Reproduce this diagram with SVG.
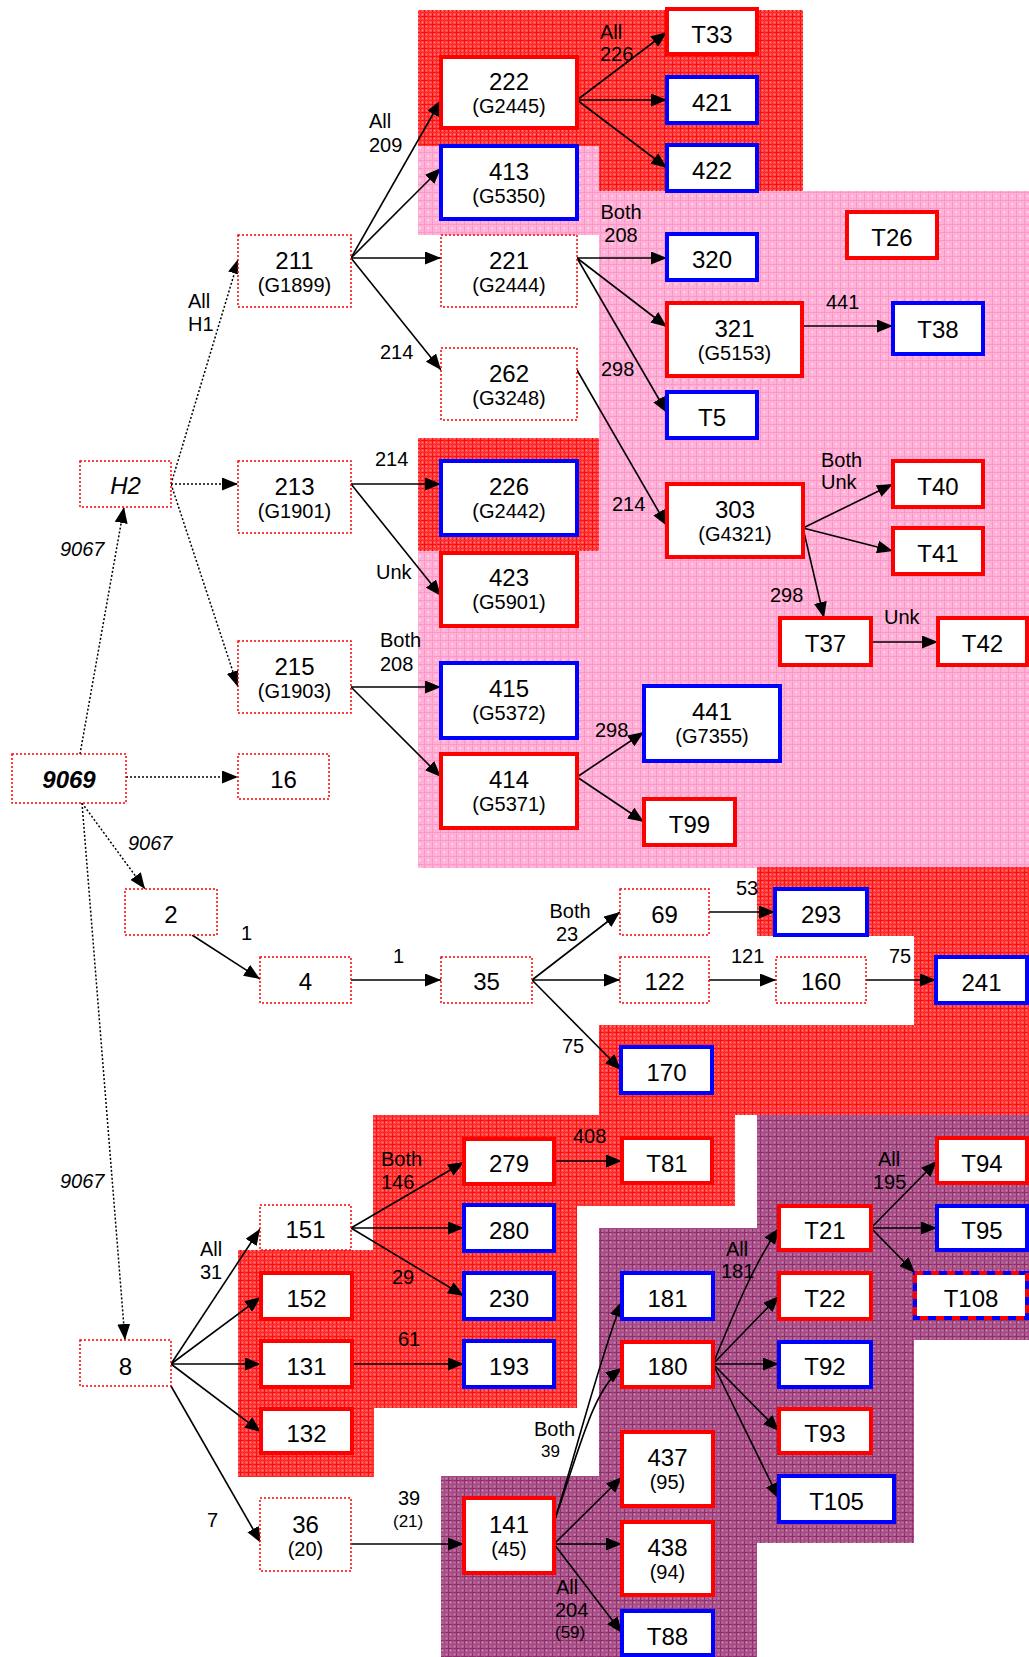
<svg xmlns="http://www.w3.org/2000/svg" width="1029" height="1657" viewBox="0 0 1029 1657">
  <style>
    .dot { fill: #fff; stroke: #f00; stroke-width: 1.5; stroke-dasharray: 2 2; }
    .red { fill: #fff; stroke: #f00; stroke-width: 4; }
    .blue { fill: #fff; stroke: #00f; stroke-width: 4; }
    text { font-family: "Liberation Sans", Arial, sans-serif; fill: #000; }
    .n { font-size: 24px; text-anchor: middle; }
    .g { font-size: 20px; text-anchor: middle; }
    .e { font-size: 20px; }
    .em { font-size: 20px; text-anchor: middle; }
    .s { font-size: 17px; }
    .it { font-style: italic; }
    .c { stroke: #000; stroke-width: 1.6; fill: none; marker-end: url(#ah); }
    .d { stroke-dasharray: 2 2; stroke-width: 1.5; }
  </style>
  <defs>
    <marker id="ah" markerUnits="userSpaceOnUse" markerWidth="17" markerHeight="13" refX="16" refY="6.5" orient="auto">
      <path d="M0,0 L16,6.5 L0,13 z" fill="#000"/>
    </marker>
    <pattern id="texRed" width="8" height="8" patternUnits="userSpaceOnUse">
      <rect width="8" height="8" fill="#ff4545"/>
      <path d="M0,0.5H8M0.5,0V8" stroke="#ff0d0d" stroke-width="1"/>
      <path d="M0,4.5H8M4.5,0V8" stroke="#ff2a2a" stroke-width="1"/>
      <rect x="2" y="2" width="1" height="1" fill="#ff9c9c"/>
      <rect x="6" y="6" width="1" height="1" fill="#ff9c9c"/>
      <rect x="2" y="6" width="1" height="1" fill="#ff7a7a"/>
      <rect x="6" y="2" width="1" height="1" fill="#ff7a7a"/>
    </pattern>
    <pattern id="texPink" width="8" height="8" patternUnits="userSpaceOnUse">
      <rect width="8" height="8" fill="#ffb2d7"/>
      <path d="M0,0.5H8M0.5,0V8" stroke="#ff96c8" stroke-width="1"/>
      <rect x="3" y="3" width="2" height="2" fill="#ffd0e6"/>
    </pattern>
    <pattern id="texPurple" width="8" height="8" patternUnits="userSpaceOnUse">
      <rect width="8" height="8" fill="#b25e92"/>
      <path d="M0,0.5H8M0.5,0V8" stroke="#8e2f6c" stroke-width="1"/>
      <path d="M0,4.5H8M4.5,0V8" stroke="#a24a82" stroke-width="1"/>
      <rect x="2" y="2" width="1" height="1" fill="#d59cbd"/>
      <rect x="6" y="6" width="1" height="1" fill="#d59cbd"/>
    </pattern>
  </defs>

  <rect width="1029" height="1657" fill="#fff"/>

  <!-- shaded background zones -->
  <g id="zones">
    <polygon fill="url(#texRed)" points="418,10 803,10 803,191 599,191 599,146 418,146"/>
    <polygon fill="url(#texPink)" points="418,146 599,146 599,191 1029,191 1029,868 418,868 418,551 599,551 599,438 599,235 418,235"/>
    <rect fill="url(#texRed)" x="418" y="438" width="181" height="113"/>
    <polygon fill="url(#texRed)" points="757,867 1029,867 1029,1115 599,1115 599,1025 914,1025 914,936 757,936"/>
    <polygon fill="url(#texRed)" points="373,1115 735,1115 735,1206 577,1206 577,1408 374,1408 374,1477 238,1477 238,1250 373,1250"/>
    <polygon fill="url(#texPurple)" points="757,1115 1029,1115 1029,1340 914,1340 914,1543 757,1543 757,1657 441,1657 441,1476 599,1476 599,1228 757,1228"/>
  </g>

  <!-- connectors -->
  <g id="connectors">
    <path class="c d" d="M80,754 L124,507"/>
    <path class="c d" d="M171,484 L239,258"/>
    <path class="c d" d="M171,484 L238,484"/>
    <path class="c d" d="M171,484 L238,687"/>
    <path class="c d" d="M126,777 L238,777"/>
    <path class="c d" d="M82,803 L145,889"/>
    <path class="c d" d="M82,803 L125,1340"/>

    <path class="c" d="M351,258 L441,100"/>
    <path class="c" d="M351,258 L441,168"/>
    <path class="c" d="M351,258 L441,258"/>
    <path class="c" d="M351,258 L441,370"/>
    <path class="c" d="M577,100 L667,32"/>
    <path class="c" d="M577,100 L667,100"/>
    <path class="c" d="M577,100 L667,168"/>
    <path class="c" d="M577,258 L667,258"/>
    <path class="c" d="M577,258 L667,327"/>
    <path class="c" d="M577,258 L667,413"/>
    <path class="c" d="M577,370 L667,526"/>
    <path class="c" d="M802,326 L893,326"/>
    <path class="c" d="M803,528 L893,484"/>
    <path class="c" d="M803,528 L893,551"/>
    <path class="c" d="M803,528 L824,618"/>
    <path class="c" d="M871,642 L938,642"/>
    <path class="c" d="M351,484 L441,484"/>
    <path class="c" d="M351,484 L441,596"/>
    <path class="c" d="M351,687 L441,687"/>
    <path class="c" d="M351,687 L441,777"/>
    <path class="c" d="M577,777 L644,732"/>
    <path class="c" d="M577,777 L644,822"/>

    <path class="c" d="M192,935 L260,979"/>
    <path class="c" d="M351,980 L441,980"/>
    <path class="c" d="M532,980 L620,912"/>
    <path class="c" d="M532,980 L620,980"/>
    <path class="c" d="M532,980 L621,1070"/>
    <path class="c" d="M709,912 L775,912"/>
    <path class="c" d="M709,980 L776,980"/>
    <path class="c" d="M866,980 L936,980"/>

    <path class="c" d="M171,1364 L260,1229"/>
    <path class="c" d="M171,1364 L261,1297"/>
    <path class="c" d="M171,1364 L261,1364"/>
    <path class="c" d="M171,1364 L261,1432"/>
    <path class="c" d="M171,1386 L261,1543"/>
    <path class="c" d="M351,1228 L464,1162"/>
    <path class="c" d="M351,1228 L464,1228"/>
    <path class="c" d="M351,1228 L464,1296"/>
    <path class="c" d="M352,1364 L464,1364"/>
    <path class="c" d="M351,1544 L464,1544"/>
    <path class="c" d="M554,1161 L622,1161"/>
    <path class="c" d="M554,1522 C574,1460 596,1370 622,1301"/>
    <path class="c" d="M554,1522 C578,1455 592,1390 622,1368"/>
    <path class="c" d="M554,1544 L622,1477"/>
    <path class="c" d="M554,1544 L622,1544"/>
    <path class="c" d="M554,1544 L622,1633"/>
    <path class="c" d="M713,1364 C735,1310 755,1262 779,1228"/>
    <path class="c" d="M713,1364 L779,1296"/>
    <path class="c" d="M713,1364 L779,1364"/>
    <path class="c" d="M713,1364 L779,1431"/>
    <path class="c" d="M713,1364 L779,1499"/>
    <path class="c" d="M871,1228 L937,1161"/>
    <path class="c" d="M871,1228 L937,1228"/>
    <path class="c" d="M871,1228 L915,1273"/>
  </g>

  <!-- connector labels -->
  <g id="edge-labels">
    <text class="e" x="600" y="39">All</text>
    <text class="e" x="600" y="61">226</text>
    <text class="e" x="369" y="128">All</text>
    <text class="e" x="369" y="152">209</text>
    <text class="e" x="188" y="308">All</text>
    <text class="e" x="188" y="331">H1</text>
    <text class="e" x="380" y="359">214</text>
    <text class="em" x="621" y="219">Both</text>
    <text class="em" x="621" y="242">208</text>
    <text class="e" x="601" y="376">298</text>
    <text class="e" x="826" y="309">441</text>
    <text class="e" x="375" y="466">214</text>
    <text class="e" x="376" y="579">Unk</text>
    <text class="e" x="612" y="511">214</text>
    <text class="e" x="821" y="467">Both</text>
    <text class="e" x="821" y="489">Unk</text>
    <text class="e" x="770" y="602">298</text>
    <text class="e" x="884" y="624">Unk</text>
    <text class="e" x="380" y="647">Both</text>
    <text class="e" x="380" y="671">208</text>
    <text class="e" x="595" y="737">298</text>
    <text class="e it" x="60" y="556">9067</text>
    <text class="e it" x="128" y="850">9067</text>
    <text class="e it" x="60" y="1188">9067</text>
    <text class="e" x="241" y="940">1</text>
    <text class="e" x="393" y="963">1</text>
    <text class="em" x="570" y="918">Both</text>
    <text class="em" x="567" y="941">23</text>
    <text class="e" x="736" y="895">53</text>
    <text class="e" x="731" y="963">121</text>
    <text class="e" x="889" y="963">75</text>
    <text class="e" x="562" y="1053">75</text>
    <text class="e" x="573" y="1143">408</text>
    <text class="e" x="381" y="1166">Both</text>
    <text class="e" x="381" y="1189">146</text>
    <text class="e" x="878" y="1166">All</text>
    <text class="e" x="873" y="1189">195</text>
    <text class="e" x="200" y="1256">All</text>
    <text class="e" x="200" y="1279">31</text>
    <text class="e" x="726" y="1256">All</text>
    <text class="e" x="721" y="1278">181</text>
    <text class="e" x="392" y="1284">29</text>
    <text class="e" x="398" y="1346">61</text>
    <text class="e" x="534" y="1436">Both</text>
    <text class="s" x="541" y="1457">39</text>
    <text class="e" x="398" y="1505">39</text>
    <text class="s" x="393" y="1527">(21)</text>
    <text class="e" x="207" y="1527">7</text>
    <text class="e" x="556" y="1594">All</text>
    <text class="e" x="555" y="1617">204</text>
    <text class="s" x="555" y="1638">(59)</text>
  </g>

  <!-- nodes -->
  <g id="n-H2"><rect class="dot" x="80" y="461" width="91" height="46"/><text class="n it" x="125.5" y="494">H2</text></g>
  <g id="n-9069"><rect class="dot" x="12" y="754" width="114" height="49"/><text class="n it" x="69" y="788" font-weight="bold">9069</text></g>
  <g id="n-211"><rect class="dot" x="238" y="235" width="113" height="72"/><text class="n" x="294.5" y="269">211</text><text class="g" x="294.5" y="292">(G1899)</text></g>
  <g id="n-213"><rect class="dot" x="238" y="461" width="113" height="72"/><text class="n" x="294.5" y="495">213</text><text class="g" x="294.5" y="518">(G1901)</text></g>
  <g id="n-215"><rect class="dot" x="238" y="641" width="113" height="72"/><text class="n" x="294.5" y="675">215</text><text class="g" x="294.5" y="698">(G1903)</text></g>
  <g id="n-16"><rect class="dot" x="238" y="754" width="91" height="45"/><text class="n" x="283.5" y="788">16</text></g>
  <g id="n-221"><rect class="dot" x="441" y="235" width="136" height="72"/><text class="n" x="509" y="269">221</text><text class="g" x="509" y="292">(G2444)</text></g>
  <g id="n-262"><rect class="dot" x="441" y="348" width="136" height="72"/><text class="n" x="509" y="382">262</text><text class="g" x="509" y="405">(G3248)</text></g>
  <g id="n-2"><rect class="dot" x="125" y="889" width="92" height="46"/><text class="n" x="171" y="923">2</text></g>
  <g id="n-4"><rect class="dot" x="260" y="957" width="91" height="46"/><text class="n" x="305.5" y="990">4</text></g>
  <g id="n-35"><rect class="dot" x="441" y="957" width="91" height="46"/><text class="n" x="486.5" y="990">35</text></g>
  <g id="n-69"><rect class="dot" x="620" y="889" width="89" height="46"/><text class="n" x="664.5" y="923">69</text></g>
  <g id="n-122"><rect class="dot" x="620" y="957" width="89" height="46"/><text class="n" x="664.5" y="990">122</text></g>
  <g id="n-160"><rect class="dot" x="776" y="957" width="90" height="46"/><text class="n" x="821" y="990">160</text></g>
  <g id="n-8"><rect class="dot" x="80" y="1340" width="91" height="46"/><text class="n" x="125.5" y="1375">8</text></g>
  <g id="n-151"><rect class="dot" x="260" y="1205" width="91" height="45"/><text class="n" x="305.5" y="1238">151</text></g>
  <g id="n-36"><rect class="dot" x="260" y="1498" width="91" height="73"/><text class="n" x="305.5" y="1533">36</text><text class="g" x="305.5" y="1556">(20)</text></g>

  <g id="n-222"><rect class="red" x="441" y="57" width="136" height="71"/><text class="n" x="509" y="90">222</text><text class="g" x="509" y="113">(G2445)</text></g>
  <g id="n-T33"><rect class="red" x="667" y="9" width="90" height="45"/><text class="n" x="712" y="43">T33</text></g>
  <g id="n-423"><rect class="red" x="441" y="553" width="136" height="73"/><text class="n" x="509" y="586">423</text><text class="g" x="509" y="609">(G5901)</text></g>
  <g id="n-414"><rect class="red" x="441" y="754" width="136" height="74"/><text class="n" x="509" y="788">414</text><text class="g" x="509" y="811">(G5371)</text></g>
  <g id="n-T26"><rect class="red" x="847" y="212" width="90" height="46"/><text class="n" x="892" y="246">T26</text></g>
  <g id="n-321"><rect class="red" x="667" y="303" width="135" height="73"/><text class="n" x="734.5" y="337">321</text><text class="g" x="734.5" y="360">(G5153)</text></g>
  <g id="n-303"><rect class="red" x="667" y="484" width="136" height="73"/><text class="n" x="735" y="518">303</text><text class="g" x="735" y="541">(G4321)</text></g>
  <g id="n-T40"><rect class="red" x="893" y="461" width="90" height="46"/><text class="n" x="938" y="495">T40</text></g>
  <g id="n-T41"><rect class="red" x="893" y="528" width="90" height="46"/><text class="n" x="938" y="562">T41</text></g>
  <g id="n-T37"><rect class="red" x="780" y="618" width="91" height="47"/><text class="n" x="825.5" y="652">T37</text></g>
  <g id="n-T42"><rect class="red" x="938" y="618" width="89" height="47"/><text class="n" x="982.5" y="652">T42</text></g>
  <g id="n-T99"><rect class="red" x="644" y="799" width="91" height="46"/><text class="n" x="689.5" y="833">T99</text></g>
  <g id="n-279"><rect class="red" x="464" y="1139" width="90" height="45"/><text class="n" x="509" y="1172">279</text></g>
  <g id="n-T81"><rect class="red" x="622" y="1138" width="90" height="45"/><text class="n" x="667" y="1172">T81</text></g>
  <g id="n-152"><rect class="red" x="261" y="1273" width="91" height="46"/><text class="n" x="306.5" y="1307">152</text></g>
  <g id="n-131"><rect class="red" x="261" y="1341" width="91" height="46"/><text class="n" x="306.5" y="1375">131</text></g>
  <g id="n-132"><rect class="red" x="261" y="1409" width="91" height="44"/><text class="n" x="306.5" y="1442">132</text></g>
  <g id="n-141"><rect class="red" x="464" y="1498" width="90" height="75"/><text class="n" x="509" y="1533">141</text><text class="g" x="509" y="1556">(45)</text></g>
  <g id="n-180"><rect class="red" x="622" y="1342" width="91" height="45"/><text class="n" x="667.5" y="1375">180</text></g>
  <g id="n-437"><rect class="red" x="622" y="1432" width="91" height="74"/><text class="n" x="667.5" y="1466">437</text><text class="g" x="667.5" y="1489">(95)</text></g>
  <g id="n-438"><rect class="red" x="622" y="1522" width="91" height="73"/><text class="n" x="667.5" y="1556">438</text><text class="g" x="667.5" y="1579">(94)</text></g>
  <g id="n-T21"><rect class="red" x="779" y="1206" width="92" height="44"/><text class="n" x="825" y="1239">T21</text></g>
  <g id="n-T22"><rect class="red" x="779" y="1273" width="92" height="46"/><text class="n" x="825" y="1307">T22</text></g>
  <g id="n-T93"><rect class="red" x="779" y="1409" width="92" height="44"/><text class="n" x="825" y="1442">T93</text></g>
  <g id="n-T94"><rect class="red" x="937" y="1138" width="90" height="45"/><text class="n" x="982" y="1172">T94</text></g>

  <g id="n-413"><rect class="blue" x="441" y="146" width="136" height="73"/><text class="n" x="509" y="180">413</text><text class="g" x="509" y="203">(G5350)</text></g>
  <g id="n-421"><rect class="blue" x="667" y="77" width="90" height="46"/><text class="n" x="712" y="111">421</text></g>
  <g id="n-422"><rect class="blue" x="667" y="145" width="90" height="46"/><text class="n" x="712" y="179">422</text></g>
  <g id="n-320"><rect class="blue" x="667" y="234" width="90" height="46"/><text class="n" x="712" y="268">320</text></g>
  <g id="n-T38"><rect class="blue" x="893" y="303" width="90" height="51"/><text class="n" x="938" y="338">T38</text></g>
  <g id="n-T5"><rect class="blue" x="667" y="392" width="90" height="46"/><text class="n" x="712" y="426">T5</text></g>
  <g id="n-226"><rect class="blue" x="441" y="461" width="136" height="74"/><text class="n" x="509" y="495">226</text><text class="g" x="509" y="518">(G2442)</text></g>
  <g id="n-415"><rect class="blue" x="441" y="663" width="136" height="75"/><text class="n" x="509" y="697">415</text><text class="g" x="509" y="720">(G5372)</text></g>
  <g id="n-441"><rect class="blue" x="644" y="686" width="136" height="75"/><text class="n" x="712" y="720">441</text><text class="g" x="712" y="743">(G7355)</text></g>
  <g id="n-293"><rect class="blue" x="775" y="889" width="92" height="46"/><text class="n" x="821" y="923">293</text></g>
  <g id="n-241"><rect class="blue" x="936" y="957" width="91" height="46"/><text class="n" x="981.5" y="991">241</text></g>
  <g id="n-170"><rect class="blue" x="621" y="1047" width="91" height="46"/><text class="n" x="666.5" y="1081">170</text></g>
  <g id="n-280"><rect class="blue" x="464" y="1205" width="90" height="46"/><text class="n" x="509" y="1239">280</text></g>
  <g id="n-230"><rect class="blue" x="464" y="1273" width="90" height="46"/><text class="n" x="509" y="1307">230</text></g>
  <g id="n-193"><rect class="blue" x="464" y="1341" width="90" height="46"/><text class="n" x="509" y="1375">193</text></g>
  <g id="n-181"><rect class="blue" x="622" y="1273" width="91" height="46"/><text class="n" x="667.5" y="1307">181</text></g>
  <g id="n-T92"><rect class="blue" x="779" y="1342" width="92" height="45"/><text class="n" x="825" y="1375">T92</text></g>
  <g id="n-T105"><rect class="blue" x="779" y="1476" width="115" height="46"/><text class="n" x="836.5" y="1510">T105</text></g>
  <g id="n-T95"><rect class="blue" x="937" y="1206" width="90" height="44"/><text class="n" x="982" y="1239">T95</text></g>
  <g id="n-T88"><rect class="blue" x="622" y="1611" width="91" height="44"/><text class="n" x="667.5" y="1645">T88</text></g>

  <g id="n-T108">
    <rect class="blue" x="915" y="1273" width="112" height="45"/>
    <rect x="915" y="1273" width="112" height="45" fill="none" stroke="#f00" stroke-width="4" stroke-dasharray="8 8"/>
    <text class="n" x="971" y="1307">T108</text>
  </g>
</svg>
